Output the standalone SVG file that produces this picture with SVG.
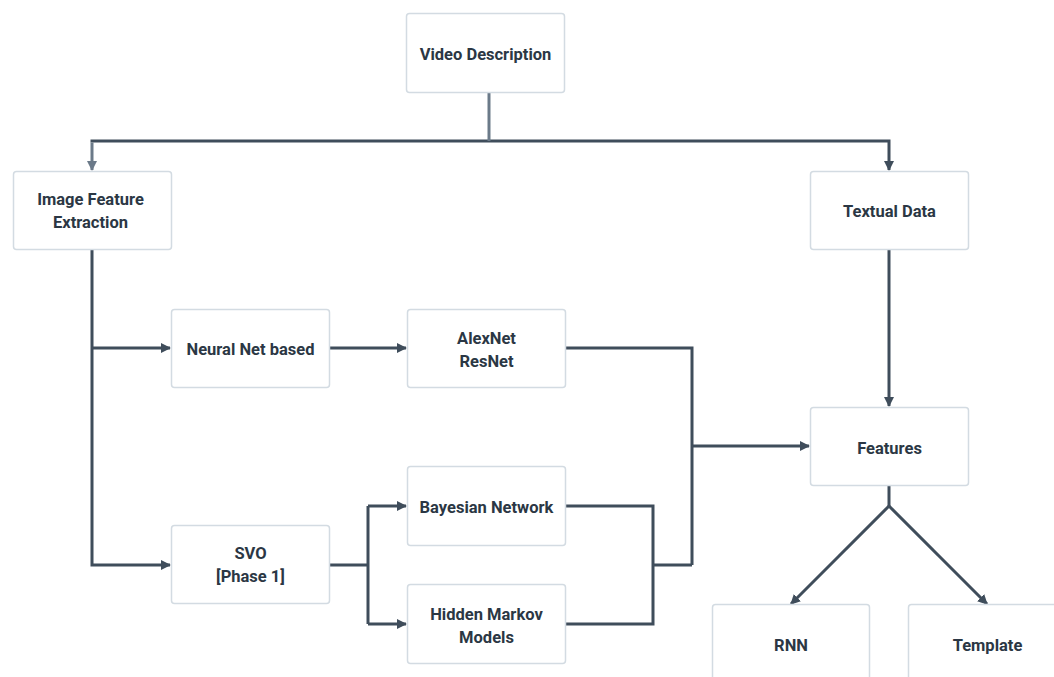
<svg xmlns="http://www.w3.org/2000/svg" width="1054" height="677" viewBox="0 0 1054 677">
  <style>
    .box { fill: #ffffff; stroke: #d3dbe2; stroke-width: 1.5; }
    .lbl { font-family: Roboto, "Liberation Sans", sans-serif; font-weight: 700; font-size: 16.5px; fill: #2b3744; text-anchor: middle; dominant-baseline: central; }
    .wire { fill: none; stroke: #3f4d5b; stroke-width: 3; stroke-linejoin: miter; }
    .wire-soft { fill: none; stroke: #6b7a89; stroke-width: 3; }
  </style>
  <defs>
    <marker id="arrow" viewBox="0 0 10 10" refX="9" refY="5" markerWidth="10" markerHeight="10" markerUnits="userSpaceOnUse" orient="auto">
      <path d="M0,0 L10,5 L0,10 z" fill="#3f4d5b"/>
    </marker>
    <marker id="arrow-soft" viewBox="0 0 10 10" refX="9" refY="5" markerWidth="10" markerHeight="10" markerUnits="userSpaceOnUse" orient="auto">
      <path d="M0,0 L10,5 L0,10 z" fill="#6b7a89"/>
    </marker>
  </defs>
  <rect width="1054" height="677" fill="#ffffff"/>

  <g id="connectors">
    <!-- root fan-out -->
    <path class="wire" d="M489,141 H889 V170" marker-end="url(#arrow)"/>
    <path class="wire" d="M489,141 H90.5"/>
    <path class="wire-soft" d="M489,93 V141"/>
    <path class="wire-soft" d="M92,142.5 V170" marker-end="url(#arrow-soft)"/>
    <!-- image feature branches -->
    <path class="wire" d="M92,250 V565 H170" marker-end="url(#arrow)"/>
    <path class="wire" d="M92,348 H170" marker-end="url(#arrow)"/>
    <path class="wire" d="M330,348 H406" marker-end="url(#arrow)"/>
    <!-- SVO split -->
    <path class="wire" d="M330,565 H368"/>
    <path class="wire" d="M368,506 V624"/>
    <path class="wire" d="M368,506 H406" marker-end="url(#arrow)"/>
    <path class="wire" d="M368,624 H406" marker-end="url(#arrow)"/>
    <!-- merge into features -->
    <path class="wire" d="M566,506 H653 V624 H566"/>
    <path class="wire" d="M653,565 H692"/>
    <path class="wire" d="M566,348 H692 V565"/>
    <path class="wire" d="M692,446 H809" marker-end="url(#arrow)"/>
    <path class="wire" d="M889,250 V406" marker-end="url(#arrow)"/>
    <!-- output split -->
    <path class="wire" d="M889,486 V506"/>
    <path class="wire" d="M889,506 L791,604" marker-end="url(#arrow)"/>
    <path class="wire" d="M889,506 L987,604" marker-end="url(#arrow)"/>
  </g>

  <g id="video-description">
    <rect class="box" x="406.5" y="13.5" width="158" height="79" rx="3"/>
    <text class="lbl" x="485.5" y="54">Video Description</text>
  </g>
  <g id="image-feature-extraction">
    <rect class="box" x="13.5" y="171.5" width="158" height="78" rx="3"/>
    <text class="lbl" x="90.5" y="199">Image Feature</text>
    <text class="lbl" x="90.5" y="222">Extraction</text>
  </g>
  <g id="textual-data">
    <rect class="box" x="810.5" y="171.5" width="158" height="78" rx="3"/>
    <text class="lbl" x="889.5" y="211">Textual Data</text>
  </g>
  <g id="neural-net-based">
    <rect class="box" x="171.5" y="309.5" width="158" height="78" rx="3"/>
    <text class="lbl" x="250.5" y="349">Neural Net based</text>
  </g>
  <g id="alexnet-resnet">
    <rect class="box" x="407.5" y="309.5" width="158" height="78" rx="3"/>
    <text class="lbl" x="486.5" y="338">AlexNet</text>
    <text class="lbl" x="486.5" y="361">ResNet</text>
  </g>
  <g id="features">
    <rect class="box" x="810.5" y="407.5" width="158" height="78" rx="3"/>
    <text class="lbl" x="889.5" y="448">Features</text>
  </g>
  <g id="bayesian-network">
    <rect class="box" x="407.5" y="466.5" width="158" height="79" rx="3"/>
    <text class="lbl" x="486.5" y="507">Bayesian Network</text>
  </g>
  <g id="svo">
    <rect class="box" x="171.5" y="525.5" width="158" height="78" rx="3"/>
    <text class="lbl" x="250.5" y="553">SVO</text>
    <text class="lbl" x="250.5" y="576">[Phase 1]</text>
  </g>
  <g id="hidden-markov-models">
    <rect class="box" x="407.5" y="584.5" width="158" height="79" rx="3"/>
    <text class="lbl" x="486.5" y="614">Hidden Markov</text>
    <text class="lbl" x="486.5" y="637">Models</text>
  </g>
  <g id="rnn">
    <rect class="box" x="712.5" y="604.5" width="157" height="90" rx="3"/>
    <text class="lbl" x="791" y="645">RNN</text>
  </g>
  <g id="template">
    <rect class="box" x="908.5" y="604.5" width="160" height="90" rx="3"/>
    <text class="lbl" x="987.5" y="645">Template</text>
  </g>
</svg>
